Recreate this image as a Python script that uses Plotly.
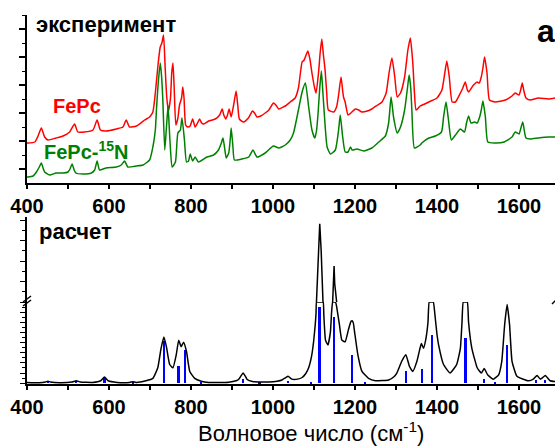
import numpy as np
import plotly.graph_objects as go

# ---------------- data ----------------
# experimental spectra (arbitrary units, offset already included)
fepc_x = [400, 402, 419, 427, 435, 443, 451, 471, 488, 504, 516, 524, 540, 561, 571, 579, 593, 618, 634, 642,
          650, 667, 687, 699, 707, 713, 720, 725, 729, 733, 737, 741, 745, 750, 753, 756, 759, 763, 768, 772,
          777, 780, 783, 787, 792, 798, 804, 810, 816, 821, 826, 831, 843, 859, 870, 876, 880, 885, 889, 893,
          898, 904, 910, 914, 918, 928, 940, 950, 955, 961, 970, 981, 990, 1001, 1007, 1014, 1025, 1030, 1042, 1054,
          1062, 1071, 1076, 1085, 1090, 1095, 1101, 1105, 1111, 1115, 1119, 1123, 1127, 1131, 1135, 1148, 1155, 1160, 1166, 1170,
          1172, 1176, 1183, 1190, 1201, 1209, 1217, 1230, 1241, 1255, 1266, 1276, 1283, 1290, 1297, 1303, 1311, 1321, 1329, 1335,
          1341, 1345, 1349, 1359, 1370, 1380, 1400, 1412, 1419, 1424, 1430, 1437, 1445, 1457, 1463, 1469, 1474, 1477, 1489, 1498,
          1503, 1508, 1512, 1516, 1522, 1528, 1542, 1567, 1583, 1591, 1600, 1604, 1608, 1612, 1617, 1627, 1647, 1672, 1688]
fepc_y = [40, 40, 41, 47, 55, 46, 43, 45, 47, 51, 59, 51, 51, 53, 63, 53, 52, 54, 56, 63,
          56, 57, 63, 66, 71, 90, 120, 136, 140, 148, 115, 85, 72, 85, 110, 120, 95, 58, 65, 78,
          85, 96, 85, 58, 56, 57, 64, 56, 60, 64, 60, 59, 62, 64, 68, 74, 68, 64, 68, 74,
          66, 78, 92, 78, 64, 61, 65, 72, 70, 66, 67, 70, 73, 80, 78, 74, 76, 77, 81, 85,
          95, 121, 123, 132, 124, 110, 96, 90, 110, 130, 144, 128, 113, 90, 73, 71, 76, 88, 106, 92,
          86, 81, 68, 70, 74, 73, 71, 72, 74, 78, 81, 90, 110, 125, 106, 86, 90, 106, 133, 145,
          120, 90, 73, 77, 79, 81, 85, 93, 110, 122, 106, 81, 81, 90, 95, 101, 93, 91, 98, 101,
          100, 106, 115, 126, 110, 83, 81, 83, 87, 90, 88, 93, 100, 92, 85, 83, 85, 84, 85]

fepc15_x = [400, 402, 415, 423, 430, 435, 440, 443, 455, 471, 488, 500, 505, 510, 515, 519, 537, 557, 565, 571,
            577, 593, 618, 630, 638, 646, 667, 683, 699, 707, 713, 716, 720, 725, 728, 731, 736, 740, 744, 747,
            750, 754, 762, 768, 774, 778, 784, 789, 794, 798, 804, 810, 818, 839, 855, 867, 874, 878, 882, 886,
            892, 896, 898, 902, 906, 924, 941, 951, 961, 981, 1001, 1014, 1030, 1042, 1050, 1062, 1071, 1079, 1087, 1095,
            1102, 1106, 1110, 1114, 1118, 1121, 1125, 1132, 1140, 1152, 1160, 1164, 1170, 1176, 1183, 1189, 1193, 1205, 1221, 1241,
            1258, 1274, 1282, 1288, 1294, 1303, 1311, 1321, 1328, 1332, 1336, 1339, 1345, 1359, 1363, 1380, 1396, 1411, 1416, 1422,
            1428, 1435, 1445, 1457, 1467, 1472, 1477, 1483, 1492, 1498, 1504, 1508, 1512, 1518, 1524, 1540, 1564, 1583, 1591, 1600,
            1609, 1617, 1627, 1647, 1672, 1688]
fepc15_y = [6, 6, 7, 11, 16, 20, 14, 11, 8, 10, 10, 11, 14, 19, 13, 10, 9, 10, 13, 22,
            13, 15, 16, 18, 22, 16, 17, 18, 23, 36, 53, 75, 100, 120, 108, 86, 33, 55, 77, 55,
            33, 16, 21, 50, 53, 65, 43, 21, 22, 29, 22, 26, 21, 26, 28, 33, 40, 45, 35, 25,
            30, 45, 55, 38, 23, 24, 26, 33, 26, 30, 37, 35, 38, 43, 50, 73, 91, 100, 76, 53,
            45, 52, 70, 95, 112, 95, 70, 36, 29, 33, 53, 68, 46, 31, 31, 36, 33, 34, 32, 35,
            41, 47, 60, 86, 66, 50, 56, 73, 95, 108, 95, 70, 35, 38, 40, 45, 47, 51, 66, 81,
            63, 43, 48, 54, 51, 60, 67, 60, 61, 60, 66, 73, 82, 66, 41, 40, 41, 46, 51, 49,
            61, 45, 44, 45, 46, 46]

# calculated spectrum (lower part 0..1, upper part of broken axis 2..6.15)
calc_x = [400, 430, 445, 451, 457, 480, 510, 520, 530, 560, 580, 589, 598, 620, 650, 658, 666, 690, 707, 719,
          727, 734, 740, 748, 756, 764, 770, 776, 782, 789, 797, 809, 825, 843, 870, 892, 910, 916, 922, 927,
          932, 937, 950, 965, 990, 1010, 1022, 1030, 1037, 1042, 1046, 1060, 1071, 1080, 1087, 1094, 1099, 1103, 1105, 1106,
          1108, 1110.5, 1114, 1117.5, 1120, 1122.5, 1124, 1128, 1134, 1140, 1143, 1145.5, 1147.5, 1149, 1150.5, 1152.5, 1155, 1162, 1168, 1176,
          1184, 1190, 1193, 1196, 1199, 1207, 1217, 1233, 1250, 1282, 1295, 1302, 1314, 1324, 1333, 1341, 1351, 1358, 1362, 1367,
          1373, 1378, 1381, 1386, 1391, 1395, 1400, 1404, 1416, 1432, 1448, 1457, 1461, 1464, 1469, 1474, 1477, 1485, 1498, 1508,
          1515, 1524, 1537, 1550, 1558, 1565, 1571, 1577, 1583, 1595, 1623, 1635, 1644, 1652, 1658, 1664, 1676, 1688]
calc_y = [0.01, 0.005, 0.015, 0.025, 0.015, 0.005, 0.015, 0.03, 0.015, 0.01, 0.03, 0.075, 0.03, 0.01, 0.01, 0.018, 0.01, 0.03, 0.06, 0.19,
          0.43, 0.57, 0.45, 0.23, 0.19, 0.35, 0.53, 0.45, 0.505, 0.39, 0.145, 0.06, 0.025, 0.01, 0.008, 0.012, 0.03, 0.045, 0.09, 0.125,
          0.09, 0.045, 0.02, 0.015, 0.015, 0.025, 0.04, 0.065, 0.085, 0.065, 0.05, 0.05, 0.07, 0.12, 0.19, 0.33, 0.51, 0.72, 0.86, 2.0,
          2.95, 4.5, 5.82, 4.5, 2.95, 2.0, 0.84, 0.53, 0.47, 0.63, 0.88, 2.0, 2.9, 3.76, 2.9, 2.0, 0.95, 0.72, 0.53, 0.51,
          0.66, 0.76, 0.77, 0.74, 0.63, 0.35, 0.145, 0.06, 0.03, 0.04, 0.08, 0.125, 0.27, 0.35, 0.205, 0.145, 0.27, 0.42, 0.49, 0.43,
          0.55, 0.75, 1.1, 1.3, 1.1, 0.84, 0.6, 0.47, 0.23, 0.125, 0.23, 0.43, 0.75, 1.1, 1.3, 1.1, 0.75, 0.43, 0.19, 0.125,
          0.18, 0.1, 0.05, 0.1, 0.27, 0.72, 0.97, 0.72, 0.27, 0.085, 0.03, 0.05, 0.095, 0.05, 0.07, 0.095, 0.03, 0.02]

stick_x = [451, 520, 589, 658, 734, 770, 785, 825, 927, 967, 1037, 1093, 1113, 1149, 1193, 1225, 1324, 1363, 1388, 1469,
           1515, 1542, 1571, 1642, 1664]
stick_y = [0.03, 0.03, 0.065, 0.02, 0.52, 0.21, 0.41, 0.01, 0.05, 0.01, 0.03, 0.01, 0.94, 0.81, 0.35, 0.01, 0.145, 0.18, 0.59, 0.56,
           0.055, 0.01, 0.47, 0.035, 0.035]

x_ticks = [400, 600, 800, 1000, 1200, 1400, 1600]

# ---------------- layout helpers ----------------
W, H = 555, 448
ML = 27
PW = W - ML


def py(ypx):
    return 1 - ypx / H


def px(xpx):
    return (xpx - ML) / PW


FONT = "Liberation Sans, Arial, sans-serif"
RED = "#ff0000"
GREEN = "#008000"

fig = go.Figure()

# top panel
fig.add_trace(go.Scatter(x=fepc_x, y=fepc_y, mode="lines",
                         line=dict(color=RED, width=1.5, shape="spline", smoothing=0.5),
                         xaxis="x", yaxis="y", showlegend=False, hoverinfo="skip"))
fig.add_trace(go.Scatter(x=fepc15_x, y=fepc15_y, mode="lines",
                         line=dict(color=GREEN, width=1.5, shape="spline", smoothing=0.5),
                         xaxis="x", yaxis="y", showlegend=False, hoverinfo="skip"))

# bottom panel - lower part (clipped flat at the break)
calc_arr = np.array(calc_y)
fig.add_trace(go.Scatter(x=calc_x, y=np.minimum(calc_arr, 1.0), mode="lines",
                         line=dict(color="black", width=1.5, shape="spline", smoothing=0.4),
                         xaxis="x2", yaxis="y2", showlegend=False, hoverinfo="skip"))
fig.add_trace(go.Bar(x=stick_x, y=stick_y, width=6, marker=dict(color="#0000ff", line=dict(width=0)),
                     xaxis="x2", yaxis="y2", showlegend=False, hoverinfo="skip"))
# bottom panel - upper part
fig.add_trace(go.Scatter(x=calc_x, y=calc_arr, mode="lines",
                         line=dict(color="black", width=1.5),
                         xaxis="x2", yaxis="y3", showlegend=False, hoverinfo="skip"))

top_dom = [py(183), py(15)]
low_dom = [py(384), py(302)]
up_dom = [py(302), py(217)]
XR = [400, 400 + PW / 0.41]

tickfont = dict(family=FONT, size=20, color="black", weight="bold")
common_x = dict(range=XR, showline=True, linecolor="black", linewidth=2, showgrid=False, zeroline=False,
                ticks="outside", ticklen=4, tickwidth=1.5, tickcolor="black",
                tickmode="array", tickvals=x_ticks, ticktext=[str(v) for v in x_ticks],
                tickfont=tickfont,
                minor=dict(ticks="outside", ticklen=4, tickwidth=1.5, tickcolor="black", dtick=100, tick0=400))
top_x = dict(range=XR, showline=True, linecolor="black", linewidth=2, showgrid=False, zeroline=False,
             ticks="inside", ticklen=3, tickwidth=1.2, tickcolor="black", dtick=100, tick0=400,
             showticklabels=False, side="top")

fig.update_layout(
    width=W, height=H,
    margin=dict(l=ML, r=0, t=0, b=0),
    paper_bgcolor="white", plot_bgcolor="white",
    bargap=0,
    xaxis=dict(**common_x, domain=[0, 1], anchor="y"),
    yaxis=dict(domain=top_dom, range=[0, 168], anchor="x", showline=True, linecolor="black", linewidth=2,
               showgrid=False, zeroline=False, showticklabels=False,
               ticks="outside", ticklen=6, tickwidth=1.5, tickcolor="black", tick0=13.7, dtick=28,
               minor=dict(ticks="outside", ticklen=3, tickwidth=1.2, tickcolor="black", tick0=13.7, dtick=14)),
    xaxis3=dict(**top_x, overlaying="x", anchor="y"),
    xaxis2=dict(**common_x, domain=[0, 1], anchor="y2"),
    yaxis2=dict(domain=low_dom, range=[-0.01, 1.0], anchor="x2", showline=True, linecolor="black", linewidth=2,
                showgrid=False, zeroline=False, showticklabels=False,
                ticks="outside", ticklen=5, tickwidth=1.2, tickcolor="black", tick0=0, dtick=0.125,
                minor=dict(ticks="outside", ticklen=3, tickwidth=1, tickcolor="black", tick0=0, dtick=0.0625)),
    yaxis3=dict(domain=up_dom, range=[2.0, 6.15], anchor="x2", showline=True, linecolor="black", linewidth=2,
                showgrid=False, zeroline=False, showticklabels=False,
                ticks="outside", ticklen=5, tickwidth=1.2, tickcolor="black", tick0=2, dtick=1,
                minor=dict(ticks="outside", ticklen=3, tickwidth=1, tickcolor="black", tick0=2, dtick=0.5)),
    xaxis4=dict(**top_x, overlaying="x2", anchor="y3"),
)

ann = []
ann.append(dict(text="<b>эксперимент</b>", x=px(34), y=py(24.5), xref="paper", yref="paper",
                xanchor="left", yanchor="middle", showarrow=False,
                font=dict(family=FONT, size=22, color="black")))
ann.append(dict(text="<b>a</b>", x=px(535), y=py(31), xref="paper", yref="paper",
                xanchor="left", yanchor="middle", showarrow=False,
                font=dict(family=FONT, size=32, color="black")))
ann.append(dict(text="<b>FePc</b>", x=px(51), y=py(106), xref="paper", yref="paper",
                xanchor="left", yanchor="middle", showarrow=False,
                font=dict(family=FONT, size=20, color=RED)))
ann.append(dict(text="<b>FePc-<sup>15</sup>N</b>", x=px(42), y=py(150), xref="paper", yref="paper",
                xanchor="left", yanchor="middle", showarrow=False,
                font=dict(family=FONT, size=20, color=GREEN)))
ann.append(dict(text="<b>расчет</b>", x=px(37), y=py(231), xref="paper", yref="paper",
                xanchor="left", yanchor="middle", showarrow=False,
                font=dict(family=FONT, size=22, color="black")))
ann.append(dict(text="Волновое число (см<sup>-1</sup>)", x=px(311), y=py(448), xref="paper", yref="paper",
                xanchor="center", yanchor="bottom", showarrow=False,
                font=dict(family=FONT, size=22, color="black")))
fig.update_layout(annotations=ann)

# axis-break marks
shapes = []
for dy in (0, 4):
    shapes.append(dict(type="line", xref="paper", yref="paper",
                       x0=px(23), y0=py(304 + dy - 2), x1=px(31), y1=py(298 + dy - 2),
                       line=dict(color="black", width=1.5)))
shapes.append(dict(type="line", xref="paper", yref="paper",
                   x0=px(552), y0=py(304), x1=px(556), y1=py(300),
                   line=dict(color="black", width=1.5)))
fig.update_layout(shapes=shapes)

fig.write_html("out.html")
